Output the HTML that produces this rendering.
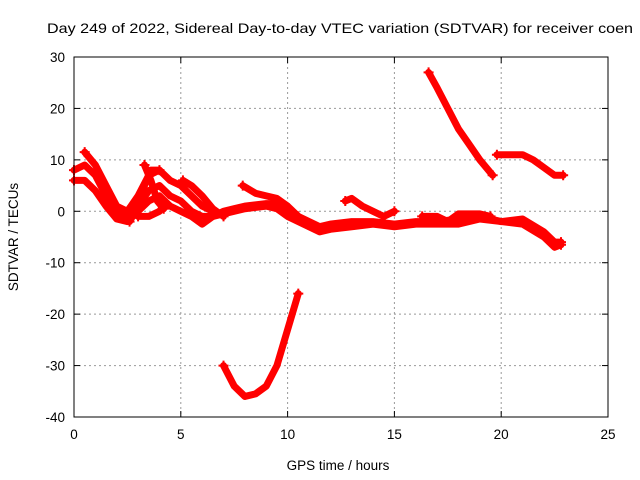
<!DOCTYPE html>
<html><head><meta charset="utf-8"><style>
body{margin:0;background:#fff}
svg{display:block;font-family:"Liberation Sans",sans-serif}
</style></head><body>
<svg id="chart" width="640" height="480">
<text x="47" y="33" font-size="14" textLength="586" lengthAdjust="spacingAndGlyphs">Day 249 of 2022, Sidereal Day-to-day VTEC variation (SDTVAR) for receiver coen</text>
<g id="grid"></g><g id="series"></g><g id="axes"></g>
<text x="338" y="470" font-size="13.5" text-anchor="middle">GPS time / hours</text>
<text transform="translate(18,237) rotate(-90)" font-size="13.5" text-anchor="middle">SDTVAR / TECUs</text>
</svg>
<script>
const xTicks=[0,5,10,15,20,25];
const yTicks=[-40,-30,-20,-10,0,10,20,30];
const bandA=[[0,8],[0.5,9],[1,7],[1.5,3],[2,0],[2.5,-1],[3,1],[3.5,4],[4,5],[4.5,3],[5,2],[5.5,0],[6,-1],[6.5,-1],[7,0],[7.5,0.5],[8,1],[9,1.5],[9.5,1.5],[10,0],[10.5,-1],[11,-2],[11.5,-3],[12,-2.5],[13,-2],[14,-2],[15,-2.5],[16,-2],[17,-2],[18,-1.5],[19,-1],[20,-2],[21,-1.5],[22,-4],[22.5,-6],[22.8,-6]];
const bandB=[[0,6],[0.5,6],[1,4],[1.5,1],[2,-1.5],[2.5,-2],[3,0],[3.5,2],[4,3],[4.5,1],[5,0],[5.5,-1],[6,-2.5],[6.5,-1],[7,-0.5],[8,0.5],[9,1],[9.5,0.5],[10,-1],[10.5,-2],[11,-3],[11.5,-4],[12,-3.5],[13,-3],[14,-2.5],[15,-3],[16,-2.5],[17,-2.5],[18,-2.5],[19,-1.5],[20,-2],[21,-2.5],[22,-5],[22.5,-7],[22.8,-6.5]];
const bandC=[[0.5,11.5],[1,9],[1.5,5],[2,1],[2.5,0],[3,3],[3.5,7],[4,8],[4.5,6],[5,5],[5.5,3],[6,1],[6.5,0]];
const seg1=[[2.6,-2],[3,1],[3.3,5],[3.6,8],[4,8]];
const seg2=[[3.3,9],[3.6,6],[3.9,2],[4.2,0.5]];
const seg3=[[3,-1],[3.5,-1],[4,0],[4.2,1]];
const seg4=[[5.1,6],[5.5,5],[6,3],[6.5,0.5],[7,-1]];
const seg5=[[7.9,5],[8.5,3.5],[9,3],[9.5,2.5],[10,1],[10.5,-1]];
const seg6=[[12.7,2],[13,2.5],[13.5,1],[14,0],[14.5,-1],[15,0]];
const seg7=[[16.3,-1],[17,-1],[17.5,-2],[18,-0.5],[19,-0.5],[19.5,-1]];
const high1=[[16.6,27],[17,24],[17.5,20],[18,16],[18.5,13],[19,10],[19.6,7]];
const high2=[[19.8,11],[20.5,11],[21,11],[21.5,10],[22,8.5],[22.5,7],[22.9,7]];
const low1=[[7,-30],[7.5,-34],[8,-36],[8.5,-35.5],[9,-34],[9.5,-30],[10,-23],[10.5,-16]];
const allSeries=[bandA,bandB,bandC,seg1,seg2,seg3,seg4,seg5,seg6,seg7,high1,high2,low1];
const L=74,R=608,T=57,B=417;
const sx=h=>L+(h/25)*(R-L);
const sy=v=>B-((v+40)/70)*(B-T);
const NS="http://www.w3.org/2000/svg";
function mk(t,a,p){const e=document.createElementNS(NS,t);for(const k in a)e.setAttribute(k,a[k]);p.appendChild(e);return e;}
const grid=document.getElementById('grid'),axes=document.getElementById('axes'),ser=document.getElementById('series');
xTicks.forEach(t=>{const x=sx(t);
 if(t>0&&t<25){const g=mk('line',{x1:x,x2:x,y1:T,y2:B,stroke:'#999','stroke-dasharray':'2,3'},grid);}
 mk('line',{x1:x,x2:x,y1:B,y2:B-6,stroke:'#000'},axes);mk('line',{x1:x,x2:x,y1:T,y2:T+6,stroke:'#000'},axes);
 const tx=mk('text',{x:x,y:B+22,'font-size':13.5,'text-anchor':'middle'},axes);tx.textContent=t;
 });
yTicks.forEach(t=>{const y=sy(t);
 if(t>-40&&t<30){const g=mk('line',{x1:L,x2:R,y1:y,y2:y,stroke:'#999','stroke-dasharray':'2,3'},grid);}
 mk('line',{x1:L,x2:L+6,y1:y,y2:y,stroke:'#000'},axes);mk('line',{x1:R,x2:R-6,y1:y,y2:y,stroke:'#000'},axes);
 const tx=mk('text',{x:L-9,y:y+5,'font-size':13.5,'text-anchor':'end'},axes);tx.textContent=t;
 });
const fr=mk('rect',{x:L,y:T,width:R-L,height:B-T,fill:'none',stroke:'#000','stroke-width':1},axes);

allSeries.forEach((s,i)=>{
 const pl=mk('polyline',{points:s.map(p=>sx(p[0])+','+sy(p[1])).join(' '),fill:'none',stroke:'#f00','stroke-width':7,'stroke-linejoin':'round','stroke-linecap':'round'},ser);
 
 
 [s[0],s[s.length-1]].forEach(p=>{const x=sx(p[0]),y=sy(p[1]);
  mk('path',{d:`M${x-5},${y}H${x+5}M${x},${y-5}V${y+5}`,stroke:'#f00','stroke-width':2},ser);});
});
</script>
</body></html>
